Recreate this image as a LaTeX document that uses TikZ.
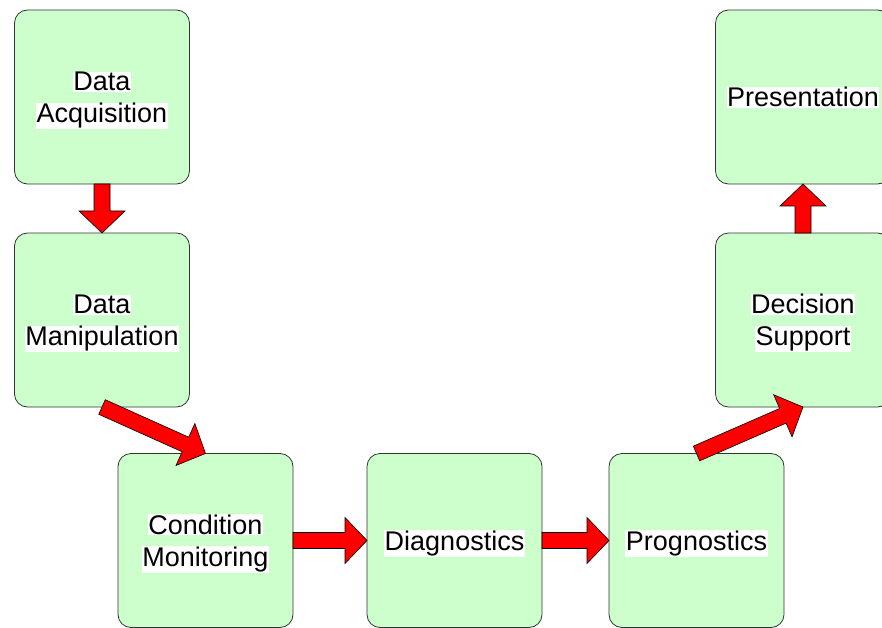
\documentclass[tikz,border=0pt]{standalone}
\usepackage{fontspec}
\setmainfont{Liberation Sans}
\usetikzlibrary{calc}

\definecolor{boxgreen}{HTML}{CCFFCC}
\definecolor{boxline}{HTML}{333333}
\definecolor{arrowred}{HTML}{FF0000}

% white highlight behind each text line
\newcommand\hlt[1]{{\setlength\fboxsep{0.6pt}\colorbox{white}{#1}}}
% centred stack of highlighted lines, set a little low in its box
\newcommand\stagetext[1]{\raisebox{-3.5pt}[\height][\depth]{\begin{tabular}{@{}c@{}}#1\end{tabular}}}

% block arrow from tail point #1 to tip point #2
\newcommand\fatarrow[2]{%
  \coordinate (fa-h) at ($(#2)!22pt!(#1)$);
  \draw[blockarrow]
    ($(#1)!8pt!90:(#2)$) -- ($(fa-h)!8pt!90:(#2)$) --
    ($(fa-h)!23pt!90:(#2)$) -- (#2) --
    ($(fa-h)!23pt!-90:(#2)$) -- ($(fa-h)!8pt!-90:(#2)$) --
    ($(#1)!8pt!-90:(#2)$) -- cycle;
}

\tikzset{
  stage/.style={draw=boxline, line width=0.8pt, fill=boxgreen,
    rounded corners=13pt, minimum width=175pt, minimum height=174pt,
    inner sep=0pt, outer sep=0pt,
    font=\fontsize{27}{32}\selectfont},
  blockarrow/.style={fill=arrowred, draw=black, line width=0.6pt, line join=miter}
}

\begin{document}
\begin{tikzpicture}[x=1pt, y=-1pt]
  \useasboundingbox (0,0) rectangle (882,628);
  \clip (0,0) rectangle (882,628);

  \node[stage] (acq)  at (102,97)      {\stagetext{\hlt{Data}\\\hlt{Acquisition}}};
  \node[stage] (man)  at (102,320)     {\stagetext{\hlt{Data}\\\hlt{Manipulation}}};
  \node[stage] (cond) at (205.5,540.5) {\stagetext{\hlt{Condition}\\\hlt{Monitoring}}};
  \node[stage] (diag) at (454.5,540.5) {\stagetext{\hlt{Diagnostics}}};
  \node[stage] (prog) at (696.5,540.5) {\stagetext{\hlt{Prognostics}}};
  \node[stage] (dec)  at (803,320)     {\stagetext{\hlt{Decision}\\\hlt{Support}}};
  \node[stage] (pres) at (803,97)      {\stagetext{\hlt{Presentation}}};

  \fatarrow{acq.south}{man.north}
  \fatarrow{man.south}{cond.north}
  \fatarrow{cond.east}{diag.west}
  \fatarrow{diag.east}{prog.west}
  \fatarrow{prog.north}{dec.south}
  \fatarrow{dec.north}{pres.south}
\end{tikzpicture}
\end{document}
